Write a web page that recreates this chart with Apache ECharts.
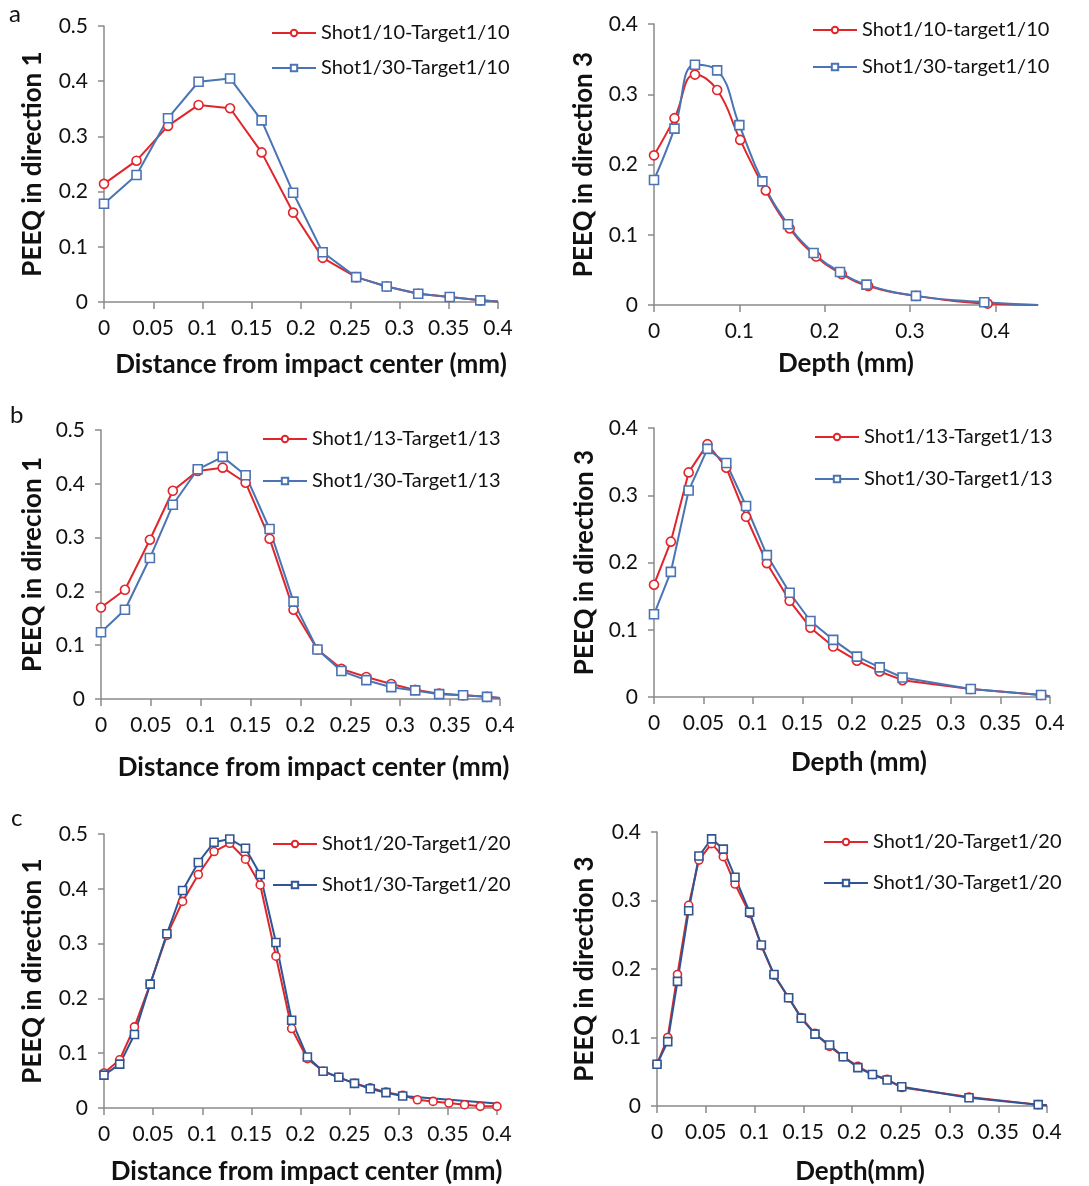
<!DOCTYPE html>
<html>
<head>
<meta charset="utf-8">
<title>PEEQ profiles</title>
<script src="https://cdn.jsdelivr.net/npm/echarts@6/dist/echarts.min.js"></script>
<style>
  html, body { margin: 0; padding: 0; background: #fff; }
  #chart { width: 1089px; height: 1186px; }
</style>
</head>
<body>
<div id="chart"></div>
<script>
// (a) direction 1: distance from impact center (mm)
const aLeftX    = [0, 0.033, 0.065, 0.096, 0.128, 0.160, 0.192, 0.222, 0.256, 0.287, 0.319, 0.351, 0.382, 0.4];
const aLeftRed  = [0.214, 0.256, 0.319, 0.357, 0.351, 0.271, 0.162, 0.080, 0.045, 0.028, 0.015, 0.009, 0.003, 0.001];
const aLeftBlue = [0.178, 0.230, 0.333, 0.399, 0.405, 0.329, 0.198, 0.090, 0.045, 0.028, 0.015, 0.009, 0.003, 0.001];

// (a) direction 3: depth (mm)
const aRightRedX  = [0, 0.024, 0.048, 0.074, 0.101, 0.131, 0.159, 0.190, 0.220, 0.251, 0.307, 0.391, 0.45];
const aRightRed   = [0.213, 0.266, 0.328, 0.306, 0.235, 0.163, 0.109, 0.069, 0.044, 0.027, 0.013, 0.002, 0];
const aRightBlueX = [0, 0.024, 0.048, 0.074, 0.100, 0.127, 0.157, 0.187, 0.218, 0.249, 0.307, 0.387, 0.45];
const aRightBlue  = [0.178, 0.251, 0.342, 0.334, 0.256, 0.176, 0.115, 0.074, 0.047, 0.029, 0.013, 0.004, 0];

// (b) direction 1
const bLeftX    = [0, 0.024, 0.049, 0.072, 0.097, 0.122, 0.145, 0.169, 0.193, 0.217, 0.241, 0.266, 0.291, 0.315, 0.339, 0.363, 0.387, 0.4];
const bLeftRed  = [0.170, 0.203, 0.296, 0.387, 0.424, 0.430, 0.402, 0.298, 0.166, 0.092, 0.056, 0.041, 0.028, 0.017, 0.010, 0.007, 0.004, 0.002];
const bLeftBlue = [0.124, 0.166, 0.262, 0.361, 0.427, 0.450, 0.416, 0.316, 0.181, 0.092, 0.052, 0.035, 0.022, 0.016, 0.009, 0.007, 0.004, 0.002];

// (b) direction 3
const bRightX    = [0, 0.017, 0.035, 0.054, 0.073, 0.093, 0.114, 0.137, 0.158, 0.181, 0.205, 0.228, 0.251, 0.320, 0.391, 0.4];
const bRightRed  = [0.167, 0.231, 0.334, 0.376, 0.341, 0.268, 0.199, 0.143, 0.103, 0.075, 0.054, 0.038, 0.025, 0.012, 0.003, 0.001];
const bRightBlue = [0.123, 0.186, 0.307, 0.369, 0.348, 0.284, 0.211, 0.155, 0.113, 0.085, 0.060, 0.044, 0.029, 0.012, 0.003, 0.001];

// (c) direction 1
const cLeftRedX  = [0, 0.016, 0.031, 0.047, 0.064, 0.080, 0.096, 0.112, 0.128, 0.144, 0.159, 0.175, 0.191, 0.207, 0.223, 0.239, 0.255, 0.271, 0.287, 0.304, 0.319, 0.335, 0.351, 0.367, 0.383, 0.4];
const cLeftRed   = [0.064, 0.088, 0.148, 0.226, 0.315, 0.377, 0.426, 0.468, 0.483, 0.454, 0.407, 0.277, 0.145, 0.090, 0.067, 0.056, 0.045, 0.037, 0.029, 0.023, 0.015, 0.012, 0.009, 0.006, 0.003, 0.003];
const cLeftBlueX = [0, 0.016, 0.031, 0.047, 0.064, 0.080, 0.096, 0.112, 0.128, 0.144, 0.159, 0.175, 0.191, 0.207, 0.223, 0.239, 0.255, 0.271, 0.287, 0.304, 0.4];
const cLeftBlue  = [0.060, 0.080, 0.134, 0.226, 0.318, 0.397, 0.448, 0.485, 0.491, 0.474, 0.426, 0.302, 0.160, 0.093, 0.067, 0.056, 0.045, 0.035, 0.028, 0.022, 0.008];

// (c) direction 3
const cRightX    = [0, 0.011, 0.021, 0.0325, 0.043, 0.056, 0.068, 0.080, 0.095, 0.107, 0.120, 0.135, 0.148, 0.162, 0.177, 0.191, 0.206, 0.221, 0.236, 0.251, 0.320, 0.391, 0.4];
const cRightRed  = [0.061, 0.100, 0.192, 0.293, 0.359, 0.383, 0.364, 0.324, 0.281, 0.234, 0.191, 0.158, 0.129, 0.106, 0.087, 0.072, 0.058, 0.046, 0.039, 0.027, 0.013, 0.002, 0.001];
const cRightBlue = [0.061, 0.094, 0.182, 0.285, 0.365, 0.390, 0.375, 0.334, 0.283, 0.235, 0.192, 0.158, 0.128, 0.105, 0.089, 0.072, 0.056, 0.046, 0.038, 0.028, 0.012, 0.002, 0.001];

const xLabel1 = 'Distance from impact center (mm)';
const RED = '#e0262b';
const BLUE = '#4a74b4';
const NAVY = '#2f5592';
const FONT = 'Lato, "Noto Sans", sans-serif';
const AXIS_GREY = '#8a8a8a';

// pair x/y arrays; optionally drop the marker on the trailing point
function pts(xs, ys, bareLast) {
  return xs.map((x, i) => {
    const item = { value: [x, ys[i]] };
    if (bareLast && i === xs.length - 1) item.symbol = 'none';
    return item;
  });
}

// plot rectangles in pixels
const grids = [
  { left: 104, top: 26,  width: 394, height: 276 },
  { left: 654, top: 24,  width: 384, height: 281 },
  { left: 101, top: 430, width: 399, height: 269 },
  { left: 654, top: 428, width: 396, height: 269 },
  { left: 104, top: 834, width: 393, height: 274 },
  { left: 657, top: 832, width: 390, height: 275 }
];

function xAxis(i, max, interval, name, gap, shift) {
  return {
    type: 'value', gridIndex: i, min: 0, max: max, interval: interval,
    name: name, nameLocation: 'middle', nameGap: gap,
    nameTextStyle: { fontFamily: FONT, fontWeight: 'bold', fontSize: 26, color: '#111',
                     padding: [0, 0, 0, 2 * (shift || 0)] },
    axisLine: { show: true, onZero: false, lineStyle: { color: AXIS_GREY, width: 1.5 } },
    axisTick: { show: true, length: 7, lineStyle: { color: AXIS_GREY, width: 1.5 } },
    axisLabel: { fontFamily: FONT, fontSize: 21, color: '#111', margin: 16,
                 showMaxLabel: max === 0.4 },
    splitLine: { show: false }
  };
}
function yAxis(i, max, name, gap) {
  return {
    type: 'value', gridIndex: i, min: 0, max: max, interval: 0.1,
    name: name, nameLocation: 'middle', nameGap: gap,
    nameTextStyle: { fontFamily: FONT, fontWeight: 'bold', fontSize: 26, color: '#111' },
    axisLine: { show: true, onZero: false, lineStyle: { color: AXIS_GREY, width: 1.5 } },
    axisTick: { show: true, length: 6, lineStyle: { color: AXIS_GREY, width: 1.5 } },
    axisLabel: { fontFamily: FONT, fontSize: 21, color: '#111', margin: 16 },
    splitLine: { show: false }
  };
}

function line(i, name, data, color, shape, size, smooth) {
  return {
    type: 'line', name: name, xAxisIndex: i, yAxisIndex: i, data: data,
    smooth: smooth ? 0.45 : false,
    symbol: shape, symbolSize: size, showSymbol: true,
    color: color,
    lineStyle: { color: color, width: 2 },
    itemStyle: { color: '#fff', borderColor: color, borderWidth: 1.6 },
    emphasis: { disabled: true },
    animation: false, z: 2
  };
}

function legend(left, top, gap, names) {
  return {
    orient: 'vertical', left: left, top: top, padding: 0,
    itemWidth: 44, itemHeight: 8, itemGap: gap,
    data: names, selectedMode: false,
    textStyle: { fontFamily: FONT, fontSize: 20, color: '#111' }
  };
}

const option = {
  backgroundColor: '#fff',
  animation: false,
  grid: grids,
  xAxis: [
    xAxis(0, 0.4, 0.05, xLabel1, 50, 10),
    xAxis(1, 0.45, 0.1, 'Depth (mm)', 46, 0),
    xAxis(2, 0.4, 0.05, xLabel1, 56, 13),
    xAxis(3, 0.4, 0.05, 'Depth (mm)', 53, 7),
    xAxis(4, 0.4, 0.05, xLabel1, 51, 6),
    xAxis(5, 0.4, 0.05, 'Depth(mm)', 53, 8)
  ],
  yAxis: [
    yAxis(0, 0.5, 'PEEQ in direction 1', 58),
    yAxis(1, 0.4, 'PEEQ in direction 3', 57),
    yAxis(2, 0.5, 'PEEQ in direcion 1', 55),
    yAxis(3, 0.4, 'PEEQ in direction 3', 56),
    yAxis(4, 0.5, 'PEEQ in direction 1', 58),
    yAxis(5, 0.4, 'PEEQ in direction 3', 59)
  ],
  legend: [
    legend(271, 23, 15, ['Shot1/10-Target1/10', 'Shot1/30-Target1/10']),
    legend(812, 20, 17, ['Shot1/10-target1/10', 'Shot1/30-target1/10']),
    legend(262, 429, 22, ['Shot1/13-Target1/13', 'Shot1/30-Target1/13']),
    legend(814, 427, 22, ['Shot1/13-Target1/13', 'Shot1/30-Target1/13']),
    legend(272, 834, 21, ['Shot1/20-Target1/20', 'Shot1/30-Target1/20']),
    legend(823, 832, 21, ['Shot1/20-Target1/20', 'Shot1/30-Target1/20'])
  ],
  graphic: [
    { type: 'text', left: 9,  top: 2,   style: { text: 'a', font: '24px ' + FONT, fill: '#111' } },
    { type: 'text', left: 10, top: 403, style: { text: 'b', font: '24px ' + FONT, fill: '#111' } },
    { type: 'text', left: 11, top: 806, style: { text: 'c', font: '24px ' + FONT, fill: '#111' } }
  ],
  series: [
    line(0, 'Shot1/10-Target1/10', pts(aLeftX, aLeftRed, true), RED, 'circle', 9),
    line(0, 'Shot1/30-Target1/10', pts(aLeftX, aLeftBlue, true), BLUE, 'rect', 9),
    line(1, 'Shot1/10-target1/10', pts(aRightRedX, aRightRed, true), RED, 'circle', 9, true),
    line(1, 'Shot1/30-target1/10', pts(aRightBlueX, aRightBlue, true), BLUE, 'rect', 9, true),
    line(2, 'Shot1/13-Target1/13', pts(bLeftX, bLeftRed, true), RED, 'circle', 9),
    line(2, 'Shot1/30-Target1/13', pts(bLeftX, bLeftBlue, true), BLUE, 'rect', 9),
    line(3, 'Shot1/13-Target1/13', pts(bRightX, bRightRed, true), RED, 'circle', 9),
    line(3, 'Shot1/30-Target1/13', pts(bRightX, bRightBlue, true), BLUE, 'rect', 9),
    line(4, 'Shot1/20-Target1/20', pts(cLeftRedX, cLeftRed, false), RED, 'circle', 8),
    line(4, 'Shot1/30-Target1/20', pts(cLeftBlueX, cLeftBlue, true), NAVY, 'rect', 8),
    line(5, 'Shot1/20-Target1/20', pts(cRightX, cRightRed, true), RED, 'circle', 8),
    line(5, 'Shot1/30-Target1/20', pts(cRightX, cRightBlue, true), NAVY, 'rect', 8)
  ]
};

const chart = echarts.init(document.getElementById('chart'), null, { renderer: 'canvas' });
chart.setOption(option);
</script>
</body>
</html>
